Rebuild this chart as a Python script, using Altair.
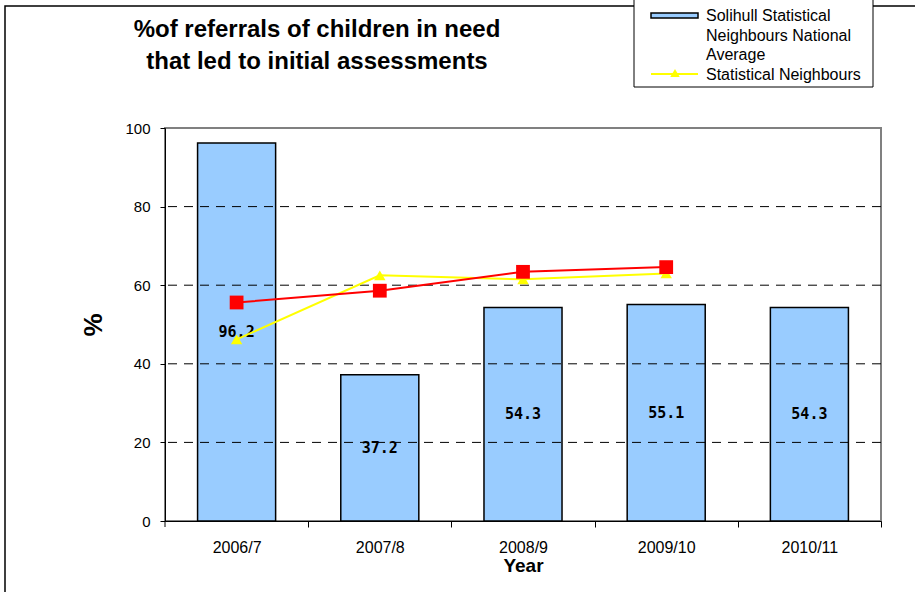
import altair as alt
import pandas as pd

years = ["2006/7", "2007/8", "2008/9", "2009/10", "2010/11"]
solihull = [96.2, 37.2, 54.3, 55.1, 54.3]
national_avg = [55.6, 58.6, 63.4, 64.6, None]
stat_neighbours = [46.2, 62.5, 61.5, 63.0, None]
grid_values = [20, 40, 60, 80]
y_ticks = [0, 20, 40, 60, 80, 100]

W, H = 716, 393
LEFT, TOP = 165, 128
STEP = W / len(years)

bars_df = pd.DataFrame({"Year": years, "Value": solihull,
                        "Label": [f"{v:.1f}" for v in solihull],
                        "Mid": [v / 2 for v in solihull]})
nat_df = pd.DataFrame({"Year": years, "Value": national_avg}).dropna()
sn_df = pd.DataFrame({"Year": years, "Value": stat_neighbours}).dropna()
grid_df = pd.DataFrame({"g": grid_values})

FONT = "Liberation Sans"

x_scale = alt.Scale(domain=years, paddingInner=0.455, paddingOuter=0.2275)
y_scale = alt.Scale(domain=[0, 100], nice=False)

x_axis = alt.Axis(title="Year", labelAngle=0, tickOffset=STEP / 2, labelOffset=-STEP / 2,
                  tickSize=6, tickColor="black", domainColor="black", labelColor="black",
                  labelFont=FONT, labelFontSize=16, labelPadding=12,
                  titleFont=FONT, titleFontSize=19, titleFontWeight="bold",
                  titleColor="black", titlePadding=1, grid=False)
y_axis = alt.Axis(title="%", values=y_ticks, grid=False,
                  tickSize=5, tickColor="black", domainColor="black",
                  labelColor="black", labelFont=FONT, labelFontSize=15,
                  labelPadding=10, titleFont=FONT, titleFontSize=26,
                  titleFontWeight="bold", titleColor="black", titlePadding=18)

bars = alt.Chart(bars_df).mark_bar(color="#99CCFF", stroke="black", strokeWidth=1.5).encode(
    x=alt.X("Year:N", sort=years, scale=x_scale, axis=x_axis),
    y=alt.Y("Value:Q", scale=y_scale, axis=y_axis))

grid = alt.Chart(grid_df).mark_rule(color="black", strokeDash=[9, 7], strokeWidth=1).encode(
    y=alt.Y("g:Q", scale=y_scale))

labels = alt.Chart(bars_df).mark_text(font="DejaVu Sans Mono", fontWeight="bold",
                                      fontSize=15, color="black").encode(
    x=alt.X("Year:N", sort=years), y=alt.Y("Mid:Q", scale=y_scale), text="Label:N")

nat_line = alt.Chart(nat_df).mark_line(color="#FF0000", strokeWidth=2).encode(
    x=alt.X("Year:N", sort=years), y=alt.Y("Value:Q", scale=y_scale))
nat_pts = alt.Chart(nat_df).mark_point(shape="square", filled=True, color="#FF0000",
                                       size=190, opacity=1).encode(
    x=alt.X("Year:N", sort=years), y=alt.Y("Value:Q", scale=y_scale))

sn_line = alt.Chart(sn_df).mark_line(color="#FFFF00", strokeWidth=2).encode(
    x=alt.X("Year:N", sort=years), y=alt.Y("Value:Q", scale=y_scale))
sn_pts = alt.Chart(sn_df).mark_point(shape="triangle-up", filled=True, color="#FFFF00",
                                     size=130, opacity=1).encode(
    x=alt.X("Year:N", sort=years), y=alt.Y("Value:Q", scale=y_scale))

one = pd.DataFrame({"a": [0]})

def tx(text, x, y, size, weight="normal", align="center"):
    return alt.Chart(one).mark_text(text=text, font=FONT, fontSize=size, fontWeight=weight,
                                    align=align, baseline="middle", color="black").encode(
        x=alt.value(x - LEFT), y=alt.value(y - TOP))

title1 = tx("%of referrals of children in need", 317, 30, 24, "bold")
title2 = tx("that led to initial assessments", 317, 62, 24, "bold")

# left-most x tick (band boundary at axis origin)
first_tick = alt.Chart(one).mark_rule(color="black", strokeWidth=1).encode(
    x=alt.value(0), y=alt.value(H), y2=alt.value(H + 6))

# outer chart border
border = alt.Chart(one).mark_rect(fill=None, stroke="black", strokeWidth=1.5).encode(
    x=alt.value(5 - LEFT), x2=alt.value(925 - LEFT),
    y=alt.value(6 - TOP), y2=alt.value(600 - TOP))

# legend box
leg_box = alt.Chart(one).mark_rect(fill="white", stroke="black", strokeWidth=1).encode(
    x=alt.value(634 - LEFT), x2=alt.value(873 - LEFT),
    y=alt.value(-5 - TOP), y2=alt.value(87 - TOP))
leg_sw = alt.Chart(one).mark_rect(fill="#99CCFF", stroke="black", strokeWidth=1.5).encode(
    x=alt.value(651 - LEFT), x2=alt.value(698 - LEFT),
    y=alt.value(13 - TOP), y2=alt.value(18 - TOP))
leg_line = alt.Chart(one).mark_rule(color="#FFFF00", strokeWidth=2).encode(
    x=alt.value(651 - LEFT), x2=alt.value(698 - LEFT), y=alt.value(74 - TOP))
leg_tri = alt.Chart(one).mark_point(shape="triangle-up", filled=True, color="#FFFF00",
                                    size=90, opacity=1).encode(
    x=alt.value(675 - LEFT), y=alt.value(73 - TOP))
leg_t1 = tx("Solihull Statistical", 706, 16, 16, align="left")
leg_t2 = tx("Neighbours National", 706, 36, 16, align="left")
leg_t3 = tx("Average", 706, 55, 16, align="left")
leg_t4 = tx("Statistical Neighbours", 706, 75, 16, align="left")

chart = alt.layer(
    bars, border, grid, labels, sn_line, nat_line, sn_pts, nat_pts, first_tick,
    title1, title2, leg_box, leg_sw, leg_line, leg_tri, leg_t1, leg_t2, leg_t3, leg_t4
).properties(
    width=W, height=H,
    autosize=alt.AutoSizeParams(type="none"),
    padding={"left": LEFT, "top": TOP, "right": 915 - LEFT - W, "bottom": 592 - TOP - H},
    background="white",
).configure_view(stroke="#808080", strokeWidth=2)

chart.save("out.html", embed_options={"renderer": "svg", "actions": False})
